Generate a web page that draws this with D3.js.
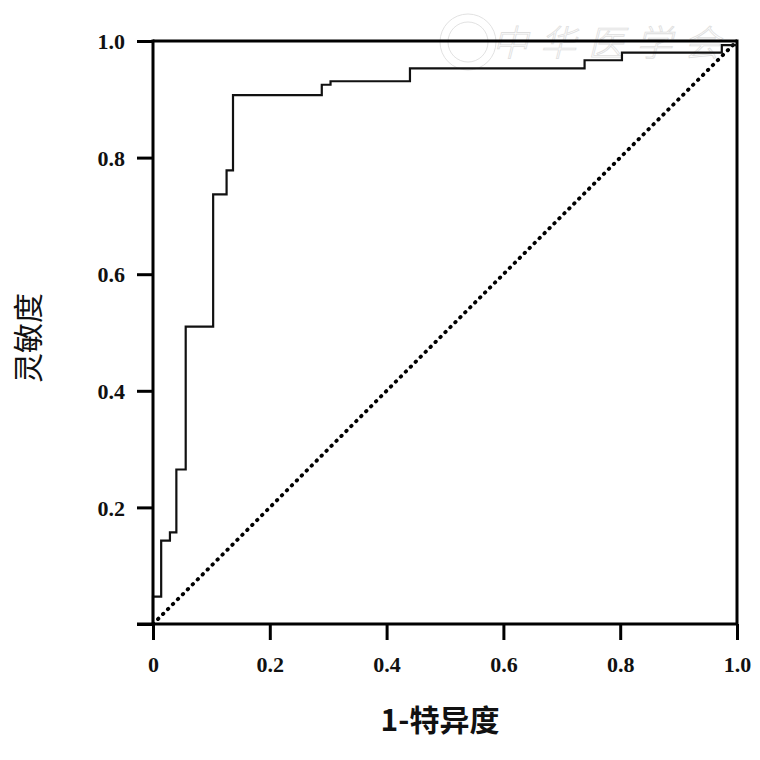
<!DOCTYPE html>
<html>
<head>
<meta charset="utf-8">
<script src="https://cdn.jsdelivr.net/npm/d3@7"></script>
<style>
  body { margin: 0; background: #fff; }
  svg { display: block; }
</style>
</head>
<body>
<svg width="760" height="760"></svg>
<script>
// ROC curve breakpoints (1 - specificity, sensitivity), drawn as steps
var fpr = [0, 0, 0.014, 0.029, 0.040, 0.056, 0.103, 0.126, 0.137, 0.289, 0.304, 0.440, 0.739, 0.803, 0.974, 1.0];
var tpr = [0, 0.047, 0.143, 0.157, 0.265, 0.510, 0.737, 0.778, 0.907, 0.925, 0.931, 0.953, 0.967, 0.980, 0.993, 0.993];
var refLine = [0, 1];
var xTicks = [0, 0.2, 0.4, 0.6, 0.8, 1.0];
var yTicks = [0, 0.2, 0.4, 0.6, 0.8, 1.0];
var xLabels = ["0", "0.2", "0.4", "0.6", "0.8", "1.0"];
var yLabels = ["", "0.2", "0.4", "0.6", "0.8", "1.0"];

var svg = d3.select("svg");

var x = d3.scaleLinear().domain([0, 1]).range([153, 737]),
    y = d3.scaleLinear().domain([0, 1]).range([624, 41]);

var serif = "'Liberation Serif', 'DejaVu Serif', serif";
var cjk = "'Noto Sans CJK SC', sans-serif";

// watermark (faint seal + text)
var wm = svg.append("g").attr("fill", "none").attr("stroke", "#e2e2e2").attr("stroke-width", 1);
wm.append("circle").attr("cx", 468).attr("cy", 42).attr("r", 28);
wm.append("circle").attr("cx", 468).attr("cy", 42).attr("r", 20);
wm.append("text")
  .attr("x", 612).attr("y", 56)
  .attr("text-anchor", "middle")
  .style("font-family", cjk)
  .style("font-size", "36px")
  .style("font-style", "italic")
  .style("font-weight", "300")
  .style("letter-spacing", "12px")
  .attr("fill", "#fff")
  .attr("stroke", "#dedede")
  .attr("stroke-width", 0.8)
  .text("中华医学会");

// frame top and right
svg.append("line")
  .attr("x1", x(0)).attr("x2", x(1)).attr("y1", y(1)).attr("y2", y(1))
  .attr("stroke", "#000").attr("stroke-width", 3);
svg.append("line")
  .attr("x1", x(1)).attr("x2", x(1)).attr("y1", y(1) - 1.5).attr("y2", y(0))
  .attr("stroke", "#000").attr("stroke-width", 3);

// reference diagonal
svg.append("line")
  .attr("x1", x(refLine[0])).attr("y1", y(refLine[0]))
  .attr("x2", x(refLine[1])).attr("y2", y(refLine[1]))
  .attr("stroke", "#000").attr("stroke-width", 3.8)
  .attr("stroke-linecap", "round")
  .attr("stroke-dasharray", "0.6,6.4");

// ROC step curve
var pts = fpr.map(function(d, i) { return [d, tpr[i]]; });
var line = d3.line()
  .x(function(d) { return x(d[0]); })
  .y(function(d) { return y(d[1]); })
  .curve(d3.curveStepAfter);
svg.append("path")
  .datum(pts)
  .attr("d", line)
  .attr("fill", "none")
  .attr("stroke", "#111")
  .attr("stroke-width", 2.2);

// x axis
var gx = svg.append("g")
  .attr("transform", "translate(0," + y(0) + ")")
  .call(d3.axisBottom(x).tickValues(xTicks).tickSize(16).tickSizeOuter(0)
    .tickFormat(function(d, i) { return xLabels[i]; }));
gx.select(".domain").attr("stroke-width", 3).attr("d", "M137,0H" + x(1));
gx.selectAll(".tick line").attr("stroke-width", 3);
gx.selectAll(".tick text")
  .attr("y", 48).attr("dy", 0)
  .style("font-family", serif).style("font-size", "22px").style("font-weight", "bold")
  .attr("fill", "#111");

// y axis
var gy = svg.append("g")
  .attr("transform", "translate(" + x(0) + ",0)")
  .call(d3.axisLeft(y).tickValues(yTicks).tickSize(16).tickSizeOuter(0)
    .tickFormat(function(d, i) { return yLabels[i]; }));
gy.select(".domain").attr("stroke-width", 3).attr("d", "M0," + y(0) + "V" + (y(1) - 1.5));
gy.selectAll(".tick line").attr("stroke-width", 3);
gy.selectAll(".tick text")
  .attr("x", -28).attr("dy", "0.35em")
  .style("font-family", serif).style("font-size", "22px").style("font-weight", "bold")
  .attr("fill", "#111");

// axis titles
svg.append("text")
  .attr("x", 440).attr("y", 731)
  .attr("text-anchor", "middle")
  .style("font-family", cjk).style("font-size", "30px").style("font-weight", "bold")
  .attr("fill", "#111")
  .text("1-特异度");

svg.append("text")
  .attr("transform", "translate(39,338) rotate(-90)")
  .attr("text-anchor", "middle")
  .style("font-family", cjk).style("font-size", "30px")
  .attr("fill", "#111")
  .text("灵敏度");
</script>
</body>
</html>
